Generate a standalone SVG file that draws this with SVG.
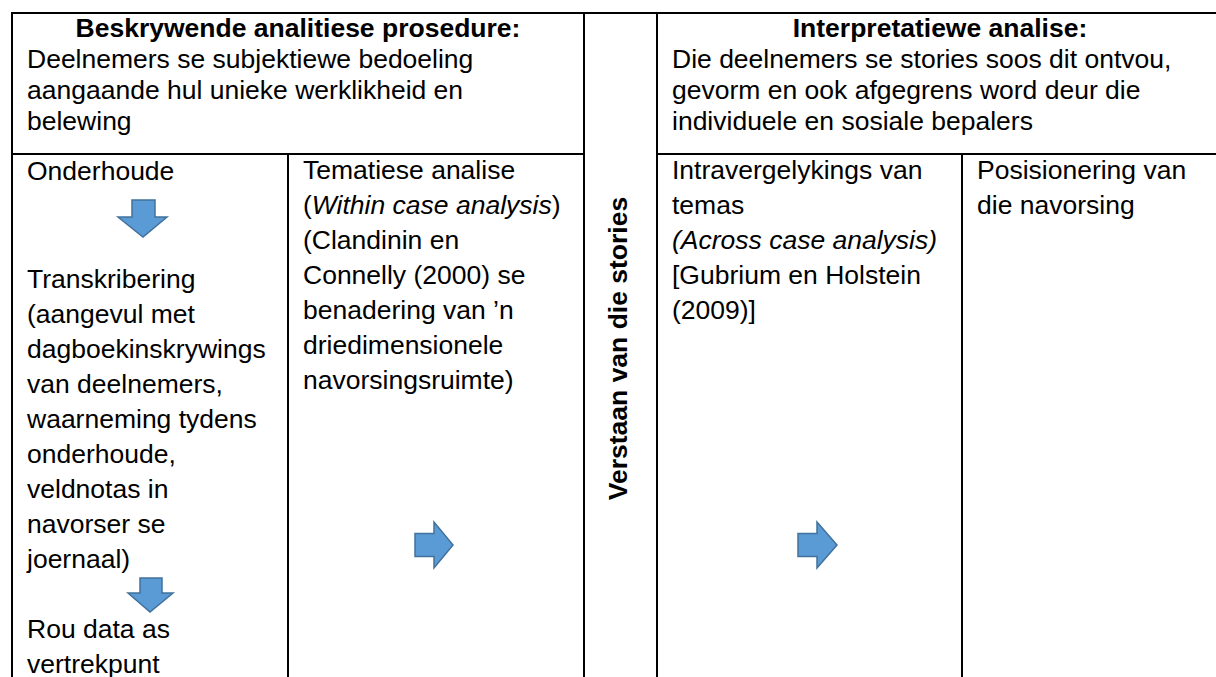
<svg xmlns="http://www.w3.org/2000/svg" width="1216" height="677" viewBox="0 0 1216 677">
<style>
text{font-family:"Liberation Sans",Arial,sans-serif;font-size:26.5px;fill:#000}
.b{font-weight:bold}
.i{font-style:italic}
.ln{stroke:#000;stroke-width:2;fill:none}
.ar{fill:#5B9BD5;stroke:#41719C;stroke-width:1.5;stroke-linejoin:miter}
</style>
<rect width="1216" height="677" fill="#fff"/>
<g id="grid">
<path class="ln" d="M12 13H1216M12 12V677M12 154H584M657 154H1216M288 154V677M584 13V677M657 13V677M962 154V677"/>
</g>
<g id="header-left">
<text class="b" x="298" y="37" text-anchor="middle">Beskrywende analitiese prosedure:</text>
<text x="27" y="68">Deelnemers se subjektiewe bedoeling</text>
<text x="27" y="99">aangaande hul unieke werklikheid en</text>
<text x="27" y="130">belewing</text>
</g>
<g id="header-right">
<text class="b" x="940" y="37" text-anchor="middle">Interpretatiewe analise:</text>
<text x="672" y="68">Die deelnemers se stories soos dit ontvou,</text>
<text x="672" y="99">gevorm en ook afgegrens word deur die</text>
<text x="672" y="130">individuele en sosiale bepalers</text>
</g>
<g id="col-onderhoude">
<text x="27" y="180">Onderhoude</text>
<text x="27" y="288">Transkribering</text>
<text x="27" y="323">(aangevul met</text>
<text x="27" y="358">dagboekinskrywings</text>
<text x="27" y="393">van deelnemers,</text>
<text x="27" y="428">waarneming tydens</text>
<text x="27" y="463">onderhoude,</text>
<text x="27" y="498">veldnotas in</text>
<text x="27" y="533">navorser se</text>
<text x="27" y="568">joernaal)</text>
<text x="27" y="638">Rou data as</text>
<text x="27" y="673">vertrekpunt</text>
</g>
<g id="col-tematiese">
<text x="303" y="179">Tematiese analise</text>
<text x="303" y="214">(<tspan class="i">Within case analysis</tspan>)</text>
<text x="303" y="249">(Clandinin en</text>
<text x="303" y="284">Connelly (2000) se</text>
<text x="303" y="319">benadering van ’n</text>
<text x="303" y="354">driedimensionele</text>
<text x="303" y="389">navorsingsruimte)</text>
</g>
<g id="col-verstaan">
<text class="b" transform="translate(627 348.5) rotate(-90)" text-anchor="middle">Verstaan van die stories</text>
</g>
<g id="col-intravergelyking">
<text x="672" y="179">Intravergelykings van</text>
<text x="672" y="214">temas</text>
<text class="i" x="672" y="249">(Across case analysis)</text>
<text x="672" y="284">[Gubrium en Holstein</text>
<text x="672" y="319">(2009)]</text>
</g>
<g id="col-posisionering">
<text x="977" y="179">Posisionering van</text>
<text x="977" y="214">die navorsing</text>
</g>
<g id="connectors">
<path class="ar" d="M132 200H155V217H167L143 237L118 217H132Z"/>
<path class="ar" d="M140 578H162V593H173L150 612L128 593H140Z"/>
<path class="ar" d="M415 533.5H434V522L453 545L434 568V556.5H415Z"/>
<path class="ar" d="M798 533.5H817V522L837 545L817 568V556.5H798Z"/>
</g>
</svg>
